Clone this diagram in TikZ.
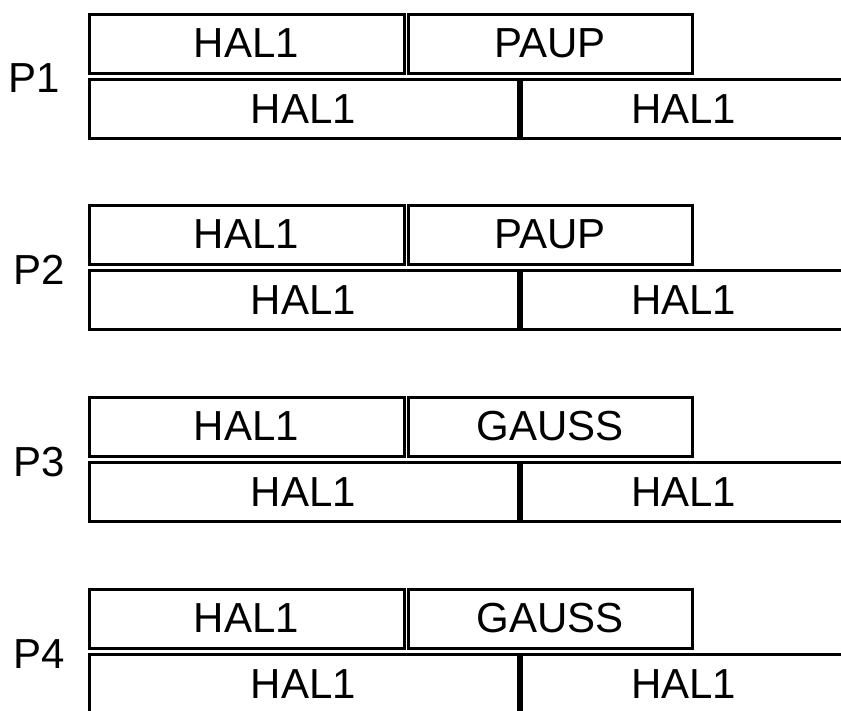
\documentclass[tikz,border=0pt]{standalone}
\usepackage{fontspec}
\setmainfont{Liberation Sans}
\begin{document}
\begin{tikzpicture}[x=1pt,y=-1pt,
  cell/.style={draw=black, line width=3pt, inner sep=0pt, outer sep=0pt,
    minimum height=59pt, font=\fontsize{42}{50}\selectfont},
  plabel/.style={inner sep=0pt, anchor=base west, font=\fontsize{42}{50}\selectfont}]
\useasboundingbox (0,0) rectangle (841,710);
\clip (0,0) rectangle (841,710);
\foreach \k/\dy/\lab/\second/\lx/\ly in {1/0/P1/PAUP/8.5/92, 2/191/P2/PAUP/13/93.5, 3/383/P3/GAUSS/13/93.5, 4/575/P4/GAUSS/13/93.5} {
  \node[cell, minimum width=315pt] (ta\k) at (246.5, 43.5+\dy) {HAL1};
  \node[cell, minimum width=284.5pt] (tb\k) at (550.25, 43.5+\dy) {\second};
  \node[cell, minimum width=429pt] (ba\k) at (303.5, 109+\dy) {HAL1};
  \node[cell, minimum width=324.5pt] (bb\k) at (683.75, 109+\dy) {HAL1};
  \node[plabel] (l\k) at (\lx, \ly+\dy) {\lab};
}
\end{tikzpicture}
\end{document}
